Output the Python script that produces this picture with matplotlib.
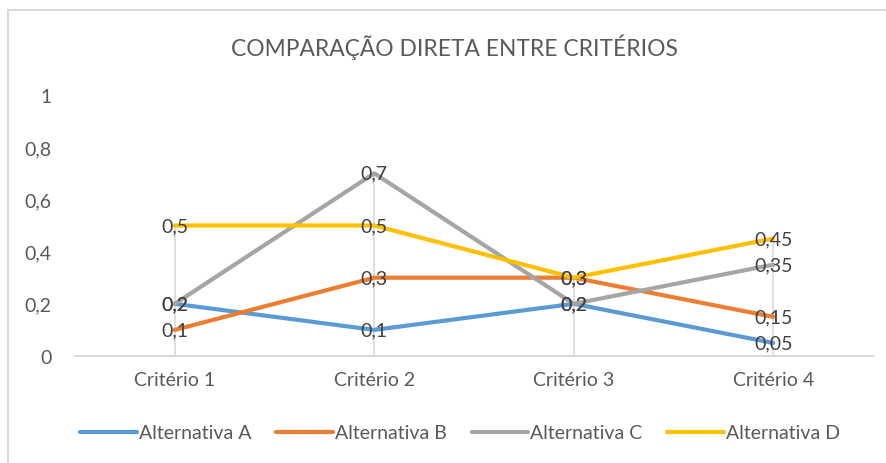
import matplotlib
matplotlib.use("Agg")
import matplotlib.pyplot as plt
from matplotlib.lines import Line2D
from matplotlib.ticker import FuncFormatter

criterios = ["Critério 1", "Critério 2", "Critério 3", "Critério 4"]
alternativa_a = [0.2, 0.1, 0.2, 0.05]
alternativa_b = [0.1, 0.3, 0.3, 0.15]
alternativa_c = [0.2, 0.7, 0.2, 0.35]
alternativa_d = [0.5, 0.5, 0.3, 0.45]
nomes = ["Alternativa A", "Alternativa B", "Alternativa C", "Alternativa D"]
cores = ["#5B9BD5", "#ED7D31", "#A5A5A5", "#FFC000"]
titulo = "COMPARAÇÃO DIRETA ENTRE CRITÉRIOS"
y_ticks = [0, 0.2, 0.4, 0.6, 0.8, 1]

series = [alternativa_a, alternativa_b, alternativa_c, alternativa_d]

plt.rcParams["font.family"] = ["Lato", "DejaVu Sans"]
texto = "#595959"
grade = "#D9D9D9"

W, H = 887, 464
fig = plt.figure(figsize=(W / 100, H / 100), dpi=100)
ax = fig.add_axes([75 / W, 1 - 357 / H, 798 / W, 261 / H])

x = list(range(len(criterios)))

# drop lines from the highest value of each category down to the axis
for i in x:
    topo = max(s[i] for s in series)
    ax.vlines(i, 0, topo, color=grade, lw=1.2, zorder=1)

for s, nome, cor in zip(series, nomes, cores):
    ax.plot(x, s, color=cor, lw=3, label=nome, zorder=3, solid_capstyle="round")

def fmt(v):
    return f"{v:g}".replace(".", ",")

for s in series:
    for i, v in zip(x, s):
        ax.text(i, v, fmt(v), ha="center", va="center", fontsize=14,
                color="#404040", zorder=5)

ax.set_xlim(-0.5, 3.5)
ax.set_ylim(0, 1)
ax.set_xticks(x)
ax.set_xticklabels(criterios)
ax.set_yticks(y_ticks)
ax.yaxis.set_major_formatter(FuncFormatter(lambda v, p: fmt(round(v, 2))))
ax.tick_params(axis="both", length=0, labelsize=14, colors=texto)
ax.tick_params(axis="y", pad=17)
ax.tick_params(axis="x", pad=11)
for side in ["top", "right", "left"]:
    ax.spines[side].set_visible(False)
ax.spines["bottom"].set_color(grade)
ax.spines["bottom"].set_linewidth(1.5)

fig.text(454 / W, 1 - 47 / H, titulo, ha="center", va="center",
         fontsize=16.4, color=texto)

handles, labels = ax.get_legend_handles_labels()
leg = fig.legend(handles, labels, loc="center", ncol=4,
                 bbox_to_anchor=(460 / W, 1 - 434 / H), frameon=False,
                 fontsize=14, handlelength=2.9, handletextpad=0.1,
                 columnspacing=1.3, labelcolor=texto)

# chart border
fig.add_artist(Line2D([8 / W, 8 / W], [0, 1 - 11 / H], color=grade, lw=1.5,
                      transform=fig.transFigure))
fig.add_artist(Line2D([8 / W, 1], [1 - 11 / H, 1 - 11 / H], color=grade, lw=1.5,
                      transform=fig.transFigure))

fig.savefig("out.png", dpi=100, facecolor="white")
